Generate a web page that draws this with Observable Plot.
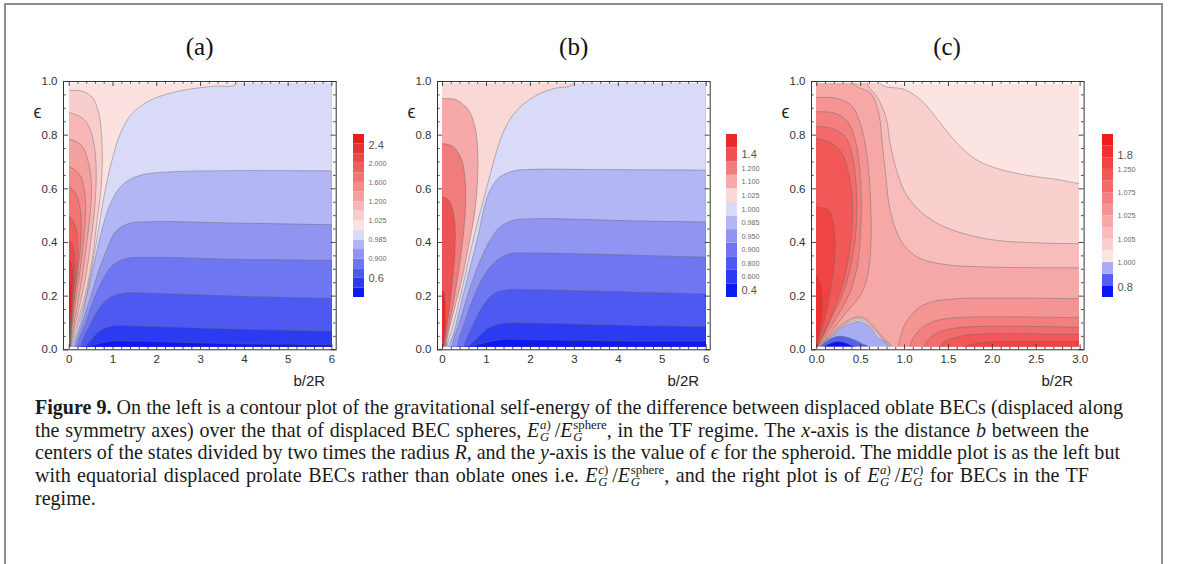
<!DOCTYPE html>
<html>
<head>
<meta charset="utf-8">
<script src="https://cdn.jsdelivr.net/npm/d3@7"></script>
<script src="https://cdn.jsdelivr.net/npm/@observablehq/plot@0.6"></script>
<style>
  html, body { margin:0; padding:0; background:#fff; }
  #root { position:relative; width:1179px; height:564px; overflow:hidden; background:#fff; }
  #border { position:absolute; left:4px; top:3px; width:1155px; height:700px; border:2px solid #8e8e8e; border-bottom:none; }
  .ptitle { position:absolute; font-family:"Liberation Serif","Times New Roman",serif; font-size:25px; color:#111; transform:translate(-50%,-50%); white-space:nowrap; }
  .layer { position:absolute; display:block; }
  .cap { position:absolute; left:35px; font-family:"Liberation Serif","Times New Roman",serif; font-size:17.5px; color:#1a1a1a; white-space:nowrap; line-height:1; }
  .sb, .sp { font-size:0.64em; position:relative; line-height:1; }
  .sb { top:0.3em; margin-left:0.05em; }
  .sp { top:-0.6em; margin-left:-0.72em; }
</style>
</head>
<body>
<div id="root">
  <div id="border"></div>
  <div class="cap" id="cap1"><b>Figure 9.</b> On the left is a contour plot of the gravitational self-energy of the difference between displaced oblate BECs (displaced along</div>
  <div class="cap" id="cap2">the symmetry axes) over the that of displaced BEC spheres, <i>E</i><span class="sb"><i>G</i></span><span class="sp"><i>a</i>)</span>&#8201;/<i>E</i><span class="sb"><i>G</i></span><span class="sp">sphere</span>, in the TF regime. The <i>x</i>-axis is the distance <i>b</i> between the</div>
  <div class="cap" id="cap3">centers of the states divided by two times the radius <i>R</i>, and the <i>y</i>-axis is the value of <i>ϵ</i> for the spheroid. The middle plot is as the left but</div>
  <div class="cap" id="cap4">with equatorial displaced prolate BECs rather than oblate ones i.e. <i>E</i><span class="sb"><i>G</i></span><span class="sp"><i>c</i>)</span>&#8201;/<i>E</i><span class="sb"><i>G</i></span><span class="sp">sphere</span>, and the right plot is of <i>E</i><span class="sb"><i>G</i></span><span class="sp"><i>a</i>)</span>&#8201;/<i>E</i><span class="sb"><i>G</i></span><span class="sp"><i>c</i>)</span> for BECs in the TF</div>
  <div class="cap" id="cap5">regime.</div>
</div>
<script>
// ================= DATA =================
const panelTitles = ["(a)", "(b)", "(c)"];
const xTicksAB = [0, 1, 2, 3, 4, 5, 6];
const xTicksC = [0, 0.5, 1, 1.5, 2, 2.5, 3];
const yTicks = [0, 0.2, 0.4, 0.6, 0.8, 1.0];
const xLabel = "b/2R";
const yLabel = "ϵ";

// band colours (index 0 = lowest value)
const colorsA = ["#0d1bf2","#2c3af1","#4d59f1","#6e77f1","#9095f2","#b3b6f5","#d9daf8",
                 "#fbe2e0","#f8cdcc","#f6b7b6","#f4a1a0","#f28b8a","#f07574","#ee5f5e","#ec4a48","#ea3432","#e81e1c"];
const colorsB = ["#0d1bf2","#2c3af1","#4d59f1","#6e77f1","#9095f2","#b3b6f5","#d9daf8",
                 "#fad8d6","#f5a9a8","#f07c7b","#ec5352","#e82b2a"];
const colorsC = ["#0b14f2","#5560f0","#a7adf2","#fce4e3","#fad0cf","#f8bcbb","#f6a8a7",
                 "#f49493","#f3807f","#f26c6b","#f15857","#f04443","#ef302f","#ee1c1b"];

// legend labels (position in band units from the top of the bar)
const legendA_labels = ["2.4","2.000","1.600","1.200","1.025","0.985","0.900","0.6"];
const legendA_at     = [1.1, 3, 5, 7, 9, 11, 13, 15];
const legendB_labels = ["1.4","1.200","1.100","1.025","1.000","0.985","0.950","0.900","0.800","0.600","0.4"];
const legendB_at     = [1.5, 2.5, 3.5, 4.5, 5.5, 6.5, 7.5, 8.5, 9.5, 10.5, 11.5];
const legendC_labels = ["1.8","1.250","1.075","1.025","1.005","1.000","0.8"];
const legendC_at     = [1.8, 3, 5, 7, 9, 11, 13.1];

// ---- panel (a): contour lines [x, eps] ----
const a_L6 = [[0.46,0.005],[0.67,0.02],[0.97,0.03],[1.47,0.03],[3.75,0.02],[6,0.017]];
const a_L5 = [[0.37,0.005],[0.52,0.039],[0.71,0.07],[1.01,0.087],[1.47,0.086],[3.75,0.075],[6,0.067]];
const a_L4 = [[0.25,0.005],[0.48,0.095],[0.71,0.159],[0.94,0.194],[1.24,0.209],[1.85,0.208],[3.75,0.198],[6,0.189]];
const a_L3 = [[0.17,0.005],[0.37,0.1],[0.56,0.188],[0.75,0.256],[0.97,0.31],[1.28,0.337],[1.85,0.342],[3.75,0.335],[6,0.331]];
const a_L2 = [[0.13,0.005],[0.29,0.095],[0.48,0.194],[0.67,0.294],[0.86,0.374],[1.05,0.437],[1.35,0.468],[1.85,0.475],[3.75,0.47],[6,0.464]];
const a_L1 = [[0.09,0.005],[0.25,0.095],[0.44,0.231],[0.63,0.368],[0.78,0.468],[0.97,0.555],[1.24,0.617],[1.62,0.648],[2.23,0.66],[3.75,0.665],[6,0.664]];
const a_C10 = [[0.06,0.005],[0.21,0.095],[0.39,0.206],[0.54,0.331],[0.67,0.455],[0.8,0.58],[0.97,0.704],[1.16,0.803],[1.43,0.878],[1.85,0.928],[2.53,0.963],[3.3,0.98],[3.83,0.99]];
const a_A1 = [[0,0.965],[0.33,0.959],[0.54,0.934],[0.67,0.878],[0.73,0.803],[0.75,0.704],[0.71,0.58],[0.63,0.48],[0.54,0.356],[0.4,0.231],[0.2,0.107],[0.04,0.005]];
const a_A2 = [[0,0.881],[0.31,0.859],[0.48,0.816],[0.58,0.741],[0.61,0.642],[0.57,0.517],[0.48,0.393],[0.37,0.269],[0.19,0.132],[0.03,0.005]];
const a_A3 = [[0,0.782],[0.27,0.76],[0.42,0.704],[0.5,0.617],[0.48,0.517],[0.4,0.405],[0.3,0.281],[0.16,0.144],[0.02,0.005]];
const a_A4 = [[0,0.679],[0.24,0.648],[0.34,0.592],[0.37,0.517],[0.33,0.418],[0.25,0.306],[0.13,0.169],[0.015,0.005]];
const a_A5 = [[0,0.604],[0.18,0.567],[0.26,0.493],[0.26,0.405],[0.2,0.306],[0.11,0.182],[0.01,0.005]];
const a_A6 = [[0,0.493],[0.15,0.449],[0.19,0.381],[0.17,0.294],[0.09,0.182],[0.008,0.005]];
const a_A7 = [[0,0.405],[0.11,0.356],[0.12,0.281],[0.07,0.182],[0.006,0.005]];
const a_A8 = [[0,0.331],[0.08,0.269],[0.06,0.182],[0.004,0.005]];
const a_A9 = [[0,0.256],[0.045,0.194],[0.03,0.107],[0.002,0.005]];

// ---- panel (b) ----
const b_L6 = [[0.7,0.005],[0.93,0.022],[1.31,0.035],[2.07,0.035],[4.35,0.03],[6,0.03]];
const b_L5 = [[0.59,0.005],[0.78,0.039],[1.08,0.082],[1.46,0.097],[2.07,0.097],[4.35,0.088],[6,0.085]];
const b_L4 = [[0.48,0.005],[0.67,0.082],[0.9,0.157],[1.16,0.206],[1.46,0.221],[2.07,0.221],[4.35,0.213],[6,0.206]];
const b_L3 = [[0.33,0.005],[0.52,0.107],[0.74,0.206],[0.97,0.281],[1.24,0.331],[1.54,0.356],[2.07,0.358],[4.35,0.35],[6,0.343]];
const b_L2 = [[0.21,0.005],[0.4,0.107],[0.63,0.231],[0.86,0.331],[1.08,0.405],[1.31,0.455],[1.62,0.48],[2.07,0.486],[4.35,0.478],[6,0.474]];
const b_L1 = [[0.14,0.005],[0.25,0.057],[0.44,0.182],[0.63,0.306],[0.82,0.43],[0.97,0.542],[1.12,0.604],[1.31,0.642],[1.62,0.664],[2.07,0.67],[3.59,0.669],[6,0.667]];
const b_C10 = [[0.1,0.005],[0.23,0.082],[0.42,0.206],[0.59,0.331],[0.77,0.455],[0.93,0.555],[1.09,0.654],[1.26,0.754],[1.48,0.841],[1.77,0.903],[2.15,0.947],[2.53,0.971],[2.98,0.99]];
const b_A1 = [[0,0.934],[0.33,0.928],[0.59,0.891],[0.74,0.828],[0.8,0.741],[0.8,0.642],[0.74,0.517],[0.59,0.381],[0.42,0.244],[0.22,0.119],[0.08,0.005]];
const b_A2 = [[0,0.766],[0.25,0.754],[0.44,0.704],[0.52,0.617],[0.52,0.517],[0.46,0.405],[0.36,0.281],[0.23,0.157],[0.06,0.005]];
const b_A3 = [[0,0.567],[0.14,0.555],[0.25,0.505],[0.29,0.43],[0.27,0.331],[0.21,0.231],[0.13,0.119],[0.04,0.005]];
const b_A4 = [[0,0.219],[0.046,0.194],[0.068,0.132],[0.053,0.057],[0.02,0.005]];

// ---- panel (c) ----
const c_T1 = [[0.73,0.99],[1.0,0.968],[1.19,0.928],[1.34,0.872],[1.49,0.81],[1.64,0.754],[1.83,0.704],[2.06,0.673],[2.36,0.65],[2.74,0.632],[3,0.617]];
const c_T2 = [[0.58,0.99],[0.69,0.94],[0.79,0.866],[0.84,0.766],[0.9,0.68],[1.0,0.59],[1.15,0.524],[1.38,0.468],[1.68,0.43],[2.06,0.405],[2.52,0.396],[3,0.393]];
const c_T3 = [[0.43,0.99],[0.62,0.953],[0.71,0.878],[0.75,0.766],[0.79,0.642],[0.84,0.517],[0.96,0.405],[1.15,0.343],[1.45,0.316],[1.95,0.306],[3,0.303]];
const c_A1 = [[0,0.938],[0.24,0.934],[0.41,0.903],[0.5,0.84],[0.56,0.754],[0.6,0.642],[0.62,0.517],[0.62,0.393],[0.58,0.27],[0.5,0.2],[0.4,0.16],[0.25,0.1],[0.1,0.035],[0.012,0.005]];
const c_A2 = [[0,0.885],[0.2,0.88],[0.35,0.85],[0.44,0.78],[0.49,0.68],[0.51,0.55],[0.5,0.42],[0.46,0.3],[0.38,0.21],[0.25,0.13],[0.1,0.05],[0.01,0.005]];
const c_A3 = [[0,0.83],[0.2,0.82],[0.33,0.79],[0.41,0.72],[0.45,0.62],[0.46,0.5],[0.43,0.38],[0.37,0.28],[0.28,0.19],[0.16,0.11],[0.06,0.04],[0.008,0.005]];
const c_A4 = [[0,0.785],[0.16,0.77],[0.29,0.73],[0.37,0.65],[0.41,0.55],[0.4,0.43],[0.36,0.33],[0.29,0.23],[0.19,0.14],[0.09,0.06],[0.006,0.005]];
const c_A5 = [[0,0.53],[0.14,0.515],[0.2,0.45],[0.21,0.36],[0.18,0.26],[0.12,0.15],[0.05,0.06],[0.004,0.005]];
const c_A6 = [[0,0.27],[0.045,0.245],[0.065,0.18],[0.05,0.09],[0.002,0.005]];
const c_B1 = [[0.93,0.005],[0.96,0.05],[1.02,0.1],[1.15,0.15],[1.3,0.175],[1.6,0.188],[2.2,0.19],[3,0.188]];
const c_B2 = [[1.06,0.005],[1.1,0.04],[1.2,0.08],[1.35,0.105],[1.6,0.117],[2.2,0.12],[3,0.117]];
const c_B3 = [[1.22,0.005],[1.3,0.045],[1.45,0.07],[1.7,0.082],[2.2,0.085],[3,0.082]];
const c_B4 = [[1.4,0.005],[1.45,0.025],[1.6,0.045],[1.8,0.055],[2.2,0.057],[3,0.055]];
const c_B5 = [[1.65,0.005],[1.7,0.012],[1.9,0.025],[2.3,0.03],[3,0.028]];
const c_R5 = [[0.03,0.005],[0.15,0.05],[0.3,0.095],[0.45,0.12],[0.55,0.115],[0.65,0.085],[0.75,0.045],[0.86,0.005]];
const c_R4 = [[0.035,0.005],[0.15,0.046],[0.3,0.09],[0.45,0.114],[0.55,0.109],[0.65,0.079],[0.75,0.04],[0.85,0.005]];
const c_R3 = [[0.04,0.005],[0.15,0.043],[0.3,0.086],[0.45,0.108],[0.55,0.103],[0.65,0.073],[0.75,0.035],[0.84,0.005]];
const c_R2 = [[0.045,0.005],[0.15,0.04],[0.3,0.082],[0.45,0.102],[0.52,0.1],[0.6,0.085],[0.7,0.045],[0.83,0.005]];
const c_R1 = [[0.05,0.005],[0.12,0.03],[0.22,0.046],[0.32,0.046],[0.42,0.036],[0.52,0.02],[0.6,0.005]];
const c_R0 = [[0.08,0.005],[0.15,0.02],[0.24,0.028],[0.33,0.023],[0.42,0.011],[0.47,0.005]];

// region tables: band filled on the side given by the closing corners (painted in order)
const UL = ["TR","TL","BL"];
const regionsA = [
  {band:1, curve:a_L6, close:UL}, {band:2, curve:a_L5, close:UL}, {band:3, curve:a_L4, close:UL},
  {band:4, curve:a_L3, close:UL}, {band:5, curve:a_L2, close:UL}, {band:6, curve:a_L1, close:UL},
  {band:7, curve:a_C10, close:["TL","BL"]},
  {band:8, curve:a_A1, close:["BL"]}, {band:9, curve:a_A2, close:["BL"]}, {band:10, curve:a_A3, close:["BL"]},
  {band:11, curve:a_A4, close:["BL"]}, {band:12, curve:a_A5, close:["BL"]}, {band:13, curve:a_A6, close:["BL"]},
  {band:14, curve:a_A7, close:["BL"]}, {band:15, curve:a_A8, close:["BL"]}, {band:16, curve:a_A9, close:["BL"]}
];
const regionsB = [
  {band:1, curve:b_L6, close:UL}, {band:2, curve:b_L5, close:UL}, {band:3, curve:b_L4, close:UL},
  {band:4, curve:b_L3, close:UL}, {band:5, curve:b_L2, close:UL}, {band:6, curve:b_L1, close:UL},
  {band:7, curve:b_C10, close:["TL","BL"]},
  {band:8, curve:b_A1, close:["BL"]}, {band:9, curve:b_A2, close:["BL"]}, {band:10, curve:b_A3, close:["BL"]},
  {band:11, curve:b_A4, close:["BL"]}
];
const LR = ["BR","BL","TL"];
const regionsC = [
  {band:4, curve:c_T1, close:LR}, {band:5, curve:c_T2, close:LR}, {band:6, curve:c_T3, close:LR},
  {band:7, curve:c_A1, close:["BL"]}, {band:7, curve:c_B1, close:["BR"]},
  {band:8, curve:c_A2, close:["BL"]}, {band:8, curve:c_B2, close:["BR"]},
  {band:9, curve:c_A3, close:["BL"]}, {band:9, curve:c_B3, close:["BR"]},
  {band:10, curve:c_A4, close:["BL"]}, {band:10, curve:c_B4, close:["BR"]},
  {band:11, curve:c_A5, close:["BL"]}, {band:11, curve:c_B5, close:["BR"]},
  {band:12, curve:c_A6, close:["BL"]},
  {band:5, curve:c_R5, close:[]}, {band:4, curve:c_R4, close:[]}, {band:3, curve:c_R3, close:[]},
  {band:2, curve:c_R2, close:[]}, {band:1, curve:c_R1, close:[]}, {band:0, curve:c_R0, close:[]}
];

// ================= LAYOUT =================
const FRAME_TOP = 80.7, FRAME_BOTTOM = 349;
const Y_DATA = [0.008, 0.99];
const LEG_TOP = 134, LEG_H = 163, LEG_W = 11;
const fontSans = "'Liberation Sans', Arial, sans-serif";

const minorAB = d3.range(0, 6.001, 0.2).filter(v => Math.abs(v - Math.round(v)) > 1e-6);
const minorC = d3.range(0, 3.001, 0.1).filter(v => Math.abs(v * 2 - Math.round(v * 2)) > 1e-6);
const minorY = d3.range(0, 1.001, 0.05).filter(v => Math.abs(v * 5 - Math.round(v * 5)) > 1e-6);

const panels = [
  {title: panelTitles[0], frameLeft: 63.3, frameRight: 336, xdom: [-0.13, 6.097], xmax: 6, xTicks: xTicksAB, xMinor: minorAB,
   fmt: d => d.toFixed(0), colors: colorsA, bg: 0, regions: regionsA, legLeft: 353.3, legLabels: legendA_labels, legAt: legendA_at},
  {title: panelTitles[1], frameLeft: 437.3, frameRight: 710, xdom: [-0.114, 6.09], xmax: 6, xTicks: xTicksAB, xMinor: minorAB,
   fmt: d => d.toFixed(0), colors: colorsB, bg: 0, regions: regionsB, legLeft: 726, legLabels: legendB_labels, legAt: legendB_at},
  {title: panelTitles[2], frameLeft: 810.7, frameRight: 1083.3, xdom: [-0.06, 3.045], xmax: 3, xTicks: xTicksC, xMinor: minorC,
   fmt: d => d.toFixed(1), colors: colorsC, bg: 3, regions: regionsC, legLeft: 1101.7, legLabels: legendC_labels, legAt: legendC_at}
];

const root = document.getElementById("root");
function put(el, left, top) {
  el.classList.add("layer");
  el.style.left = left + "px";
  el.style.top = top + "px";
  root.appendChild(el);
}

function extendCurve(pts, xmax) {
  const P = pts.map(([x, y]) => ({x, y}));
  const ext = p => {
    if (p.y <= 0.012) return {x: p.x, y: -0.2};
    if (p.y >= 0.985) return {x: p.x, y: 1.2};
    if (p.x <= 0.001) return {x: -0.4, y: p.y};
    if (p.x >= xmax - 0.001) return {x: xmax * 1.08, y: p.y};
    return null;
  };
  const s = ext(P[0]), e = ext(P[P.length - 1]);
  return [...(s ? [s] : []), ...P, ...(e ? [e] : [])];
}
function cornerPt(c, xmax) {
  return {TR: {x: xmax * 1.08, y: 1.2}, TL: {x: -0.4, y: 1.2}, BL: {x: -0.4, y: -0.2}, BR: {x: xmax * 1.08, y: -0.2}}[c];
}

panels.forEach((p) => {
  const fw = p.frameRight - p.frameLeft, fh = FRAME_BOTTOM - FRAME_TOP;
  const mL = 45, mR = 15, mT = 15, mB = 45;
  const tick = {stroke: "#333", strokeWidth: 0.9};
  const axes = Plot.plot({
    width: fw + mL + mR, height: fh + mT + mB,
    marginLeft: mL, marginRight: mR, marginTop: mT, marginBottom: mB,
    x: {domain: p.xdom, axis: null}, y: {domain: [0, 1], axis: null},
    style: {background: "transparent", overflow: "visible", fontFamily: fontSans},
    marks: [
      Plot.tickX(p.xTicks, {x: d => d, insetTop: fh - 5, ...tick}),
      Plot.tickX(p.xTicks, {x: d => d, insetBottom: fh - 5, ...tick}),
      Plot.tickX(p.xMinor, {x: d => d, insetTop: fh - 2.6, ...tick}),
      Plot.tickX(p.xMinor, {x: d => d, insetBottom: fh - 2.6, ...tick}),
      Plot.tickY(yTicks, {y: d => d, insetRight: fw - 5, ...tick}),
      Plot.tickY(yTicks, {y: d => d, insetLeft: fw - 5, ...tick}),
      Plot.tickY(minorY, {y: d => d, insetRight: fw - 2.6, ...tick}),
      Plot.tickY(minorY, {y: d => d, insetLeft: fw - 2.6, ...tick}),
      Plot.frame({stroke: "#333", strokeWidth: 1}),
      Plot.text(p.xTicks, {x: d => d, frameAnchor: "bottom", dy: 13, text: p.fmt, fontSize: 11.5, fill: "#333"}),
      Plot.text(yTicks, {y: d => d, frameAnchor: "left", dx: -6, textAnchor: "end", text: d => d.toFixed(1), fontSize: 11.5, fill: "#333"}),
      Plot.text([yLabel], {frameAnchor: "top-left", dx: -30, dy: 24, text: d => d, fontSize: 18, fill: "#222"}),
      Plot.text([xLabel], {frameAnchor: "bottom-right", dx: -11, dy: 36, textAnchor: "end", text: d => d, fontSize: 15, fill: "#222"})
    ]
  });
  const svgLeft = p.frameLeft - mL, svgTop = FRAME_TOP - mT;
  const sx = axes.scale("x"), sy = axes.scale("y");
  const dLeft = svgLeft + sx.apply(0), dRight = svgLeft + sx.apply(p.xmax);
  const dTop = svgTop + sy.apply(Y_DATA[1]), dBottom = svgTop + sy.apply(Y_DATA[0]);

  // data layer
  const polys = [], lines = [];
  p.regions.forEach((r, i) => {
    const e = extendCurve(r.curve, p.xmax);
    e.concat(r.close.map(c => cornerPt(c, p.xmax))).forEach(q => polys.push({id: i, band: r.band, x: q.x, y: q.y}));
    e.forEach(q => lines.push({id: i, x: q.x, y: q.y}));
  });
  const data = Plot.plot({
    width: dRight - dLeft, height: dBottom - dTop, margin: 0,
    x: {domain: [0, p.xmax], axis: null}, y: {domain: Y_DATA, axis: null},
    color: {type: "ordinal", domain: d3.range(p.colors.length), range: p.colors},
    style: {background: "transparent"},
    marks: [
      Plot.frame({fill: p.colors[p.bg], stroke: "none"}),
      Plot.line(polys, {x: "x", y: "y", z: "id", fill: "band", stroke: "none", curve: "catmull-rom", clip: true}),
      Plot.line(lines, {x: "x", y: "y", z: "id", stroke: "#6a6a6a", strokeOpacity: 0.45, strokeWidth: 1, curve: "catmull-rom", clip: true})
    ]
  });
  put(data, dLeft, dTop);
  put(axes, svgLeft, svgTop);

  // legend
  const n = p.colors.length;
  const idx = d3.range(p.legLabels.length);
  const last = p.legLabels.length - 1;
  const big = i => i === 0 || i === last;
  const legend = Plot.plot({
    width: LEG_W + 45, height: LEG_H, marginLeft: 0, marginRight: 45, marginTop: 0, marginBottom: 0,
    x: {domain: [0, 1], axis: null}, y: {domain: [0, n], reverse: true, axis: null},
    color: {type: "ordinal", domain: d3.range(n), range: p.colors},
    style: {background: "transparent", overflow: "visible", fontFamily: fontSans},
    marks: [
      Plot.rect(d3.range(n), {x1: 0, x2: 1, y1: b => n - 1 - b, y2: b => n - b, fill: b => b}),
      Plot.text(idx.filter(big), {x: 1, y: i => p.legAt[i], dx: 4, textAnchor: "start", text: i => p.legLabels[i], fontSize: 11, fill: "#555"}),
      Plot.text(idx.filter(i => !big(i)), {x: 1, y: i => p.legAt[i], dx: 4, textAnchor: "start", text: i => p.legLabels[i], fontSize: 7.2, fill: "#6a6a6a"})
    ]
  });
  put(legend, p.legLeft, LEG_TOP);

  // title
  const t = document.createElement("div");
  t.className = "ptitle";
  t.textContent = p.title;
  t.style.left = ((p.frameLeft + p.frameRight) / 2) + "px";
  t.style.top = "47px";
  root.appendChild(t);
});

// caption sizing: font fitted on line 1, word spacing to match the other line lengths
const capIds = ["cap1","cap2","cap3","cap4","cap5"];
const capRight = [1123, 1089, 1120, 1089, null];
const c1 = document.getElementById("cap1");
const w1 = c1.getBoundingClientRect().width;
const fs = 17.5 * 1088 / w1;
capIds.forEach((id, i) => {
  const el = document.getElementById(id);
  el.style.fontSize = fs + "px";
  el.style.top = (397 + i * 22.7) + "px";
});
capIds.forEach((id, i) => {
  const el = document.getElementById(id);
  if (capRight[i] == null) return;
  const r = el.getBoundingClientRect();
  const spaces = (el.textContent.match(/ /g) || []).length;
  const diff = capRight[i] - r.right;
  if (spaces > 0) el.style.wordSpacing = (diff / spaces) + "px";
});
</script>
</body>
</html>
